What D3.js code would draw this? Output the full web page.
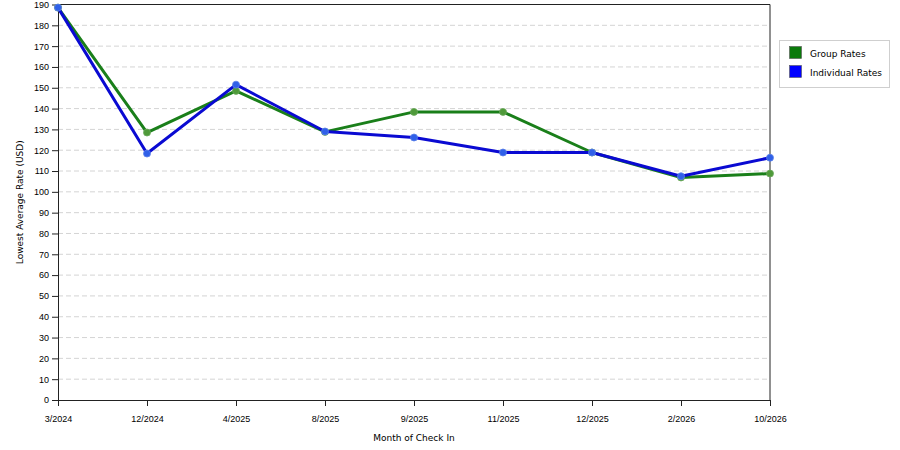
<!DOCTYPE html>
<html>
<head>
<meta charset="utf-8">
<script src="https://cdn.jsdelivr.net/npm/d3@7"></script>
<style>
  body { margin: 0; background: #fff; }
  svg { display: block; font-family: "DejaVu Sans", Verdana, sans-serif; }
  .tick text { font-size: 9px; fill: #000; }
</style>
</head>
<body>
<svg id="chart" width="900" height="450"></svg>
<script>
// Categories along the x axis
const months = ['3/2024', '12/2024', '4/2025', '8/2025', '9/2025', '11/2025', '12/2025', '2/2026', '10/2026'];

// Series values (USD)
const groupRates = [188.5, 128.5, 148.5, 128.8, 138.4, 138.4, 118.9, 106.9, 108.8];
const individualRates = [188.5, 118.4, 151.5, 129, 126.1, 118.9, 118.9, 107.5, 116.4];

const yTicks = d3.range(0, 191, 10);

const seriesNames = ['Group Rates', 'Individual Rates'];
const lineColors = ['#1a7f1a', '#0a0ad2'];
const swatchColors = ['#0b7a0b', '#0000ff'];

const svg = d3.select('#chart');
const plotLeft = 58, plotRight = 770, plotTop = 4.5, plotBottom = 400;

const x = d3.scalePoint().domain(months).range([plotLeft, plotRight]);
const y = d3.scaleLinear().domain([0, 190]).range([plotBottom, plotTop]);

// grid lines
svg.append('g')
    .selectAll('line')
    .data(yTicks.filter(t => t > 0 && t < 190))
    .enter()
    .append('line')
    .attr('x1', plotLeft)
    .attr('x2', plotRight)
    .attr('y1', d => y(d))
    .attr('y2', d => y(d))
    .attr('stroke', '#d4d4d4')
    .attr('stroke-dasharray', '5,3')
    .attr('stroke-width', 1);

// frame top + right
svg.append('line').attr('x1', plotLeft).attr('x2', plotRight).attr('y1', plotTop).attr('y2', plotTop)
    .attr('stroke', '#222');
svg.append('line').attr('x1', plotRight).attr('x2', plotRight).attr('y1', plotTop).attr('y2', plotBottom)
    .attr('stroke', '#222');

// axes
const yAxis = svg.append('g')
    .attr('transform', `translate(${plotLeft},0)`)
    .call(d3.axisLeft(y).tickValues(yTicks).tickSize(6).tickPadding(3).tickSizeOuter(0));
const xAxis = svg.append('g')
    .attr('transform', `translate(0,${plotBottom})`)
    .call(d3.axisBottom(x).tickSize(6).tickPadding(10).tickSizeOuter(0));
[yAxis, xAxis].forEach(a => {
    a.select('.domain').attr('stroke', '#222');
    a.selectAll('.tick line').attr('stroke', '#222');
});

// axis titles
svg.append('text')
    .attr('x', (plotLeft + plotRight) / 2)
    .attr('y', 441)
    .attr('text-anchor', 'middle')
    .style('font-size', '9px')
    .text('Month of Check In');
svg.append('text')
    .attr('transform', `translate(22.5,${(plotTop + plotBottom) / 2}) rotate(-90)`)
    .attr('text-anchor', 'middle')
    .style('font-size', '9px')
    .text('Lowest Average Rate (USD)');

// lines: group first, individual on top
const line = d3.line().x((d, i) => x(months[i])).y(d => y(d));
[groupRates, individualRates].forEach((vals, s) => {
    svg.append('path')
        .datum(vals)
        .attr('d', line)
        .attr('fill', 'none')
        .attr('stroke', lineColors[s])
        .attr('stroke-width', 3)
        .attr('stroke-linejoin', 'round');
    svg.append('g')
        .selectAll('circle')
        .data(vals)
        .enter()
        .append('circle')
        .attr('cx', (d, i) => x(months[i]))
        .attr('cy', d => y(d))
        .attr('r', 3.5)
        .attr('fill', s === 0 ? '#4f9a3a' : '#3060e8')
        .attr('stroke', s === 0 ? '#6aa85a' : '#5a80e8')
        .attr('stroke-width', 0.8);
});

// legend
const legend = svg.append('g');
legend.append('rect')
    .attr('x', 779.5).attr('y', 40.5)
    .attr('width', 110).attr('height', 47)
    .attr('fill', '#fff')
    .attr('stroke', '#cfcfcf');
seriesNames.forEach((name, i) => {
    legend.append('rect')
        .attr('x', 789.5).attr('y', 46.5 + i * 19)
        .attr('width', 12).attr('height', 12)
        .attr('fill', swatchColors[i])
        .attr('stroke', '#555')
        .attr('stroke-width', 0.6);
    legend.append('text')
        .attr('x', 810).attr('y', 57 + i * 19)
        .style('font-size', '9px')
        .text(name);
});
</script>
</body>
</html>
